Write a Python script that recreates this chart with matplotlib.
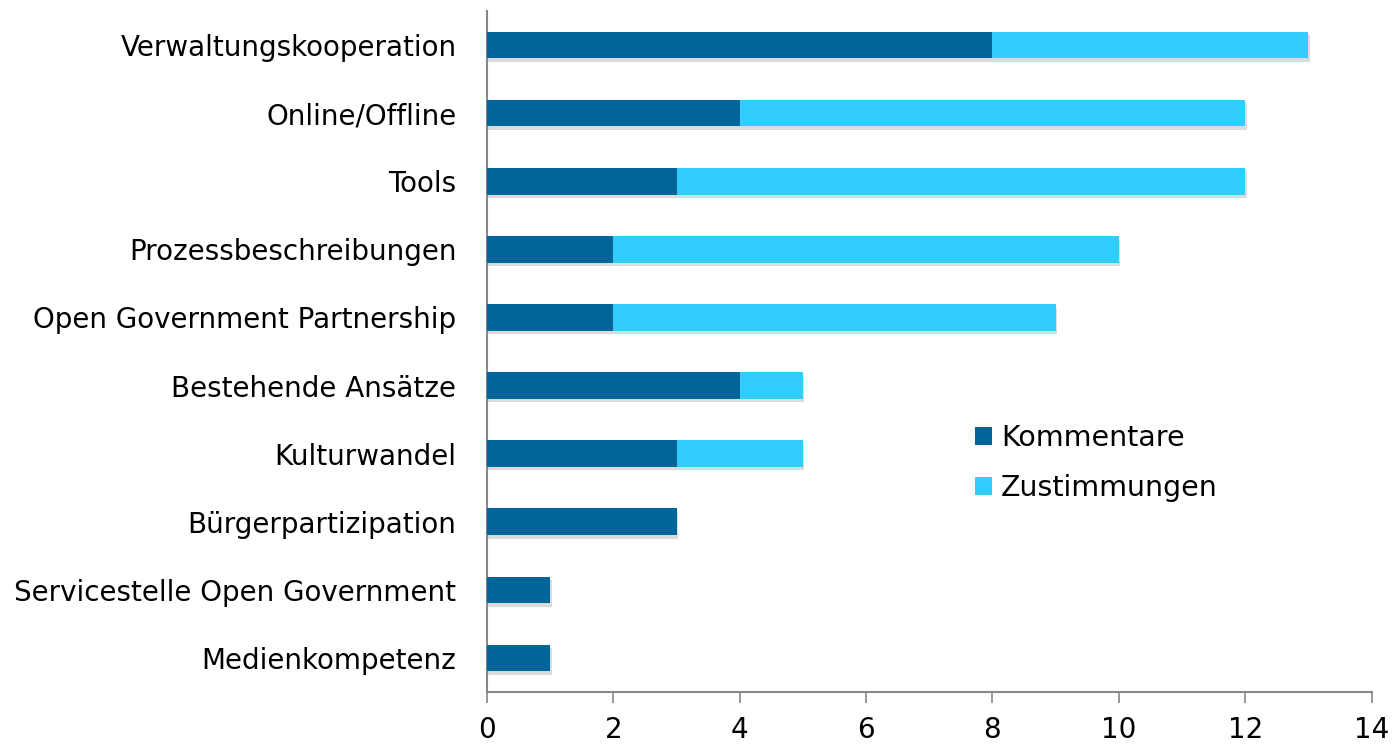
import matplotlib
matplotlib.use("Agg")
import matplotlib.pyplot as plt
import matplotlib.patheffects as pe
import numpy as np

plt.rcParams['font.family'] = ['DejaVu Sans']

categories = ["Verwaltungskooperation", "Online/Offline", "Tools", "Prozessbeschreibungen",
              "Open Government Partnership", "Bestehende Ansätze", "Kulturwandel",
              "Bürgerpartizipation", "Servicestelle Open Government", "Medienkompetenz"]
kommentare = [8, 4, 3, 2, 2, 4, 3, 3, 1, 1]
zustimmungen = [5, 8, 9, 8, 7, 1, 2, 0, 0, 0]
xticks = [0, 2, 4, 6, 8, 10, 12, 14]

dark = "#006699"
light = "#33CCFF"

fig = plt.figure(figsize=(13.92, 7.47), dpi=100)
ax = fig.add_axes([487/1392, 1-692/747, (1371.5-487)/1392, (692-11)/747])

y = np.arange(len(categories))
shadow = [pe.SimplePatchShadow(offset=(1.0, -2.5), shadow_rgbFace="#888888", alpha=0.3), pe.Normal()]
b1 = ax.barh(y, kommentare, height=0.39, color=dark, label="Kommentare", zorder=3)
b2 = ax.barh(y, zustimmungen, left=kommentare, height=0.39, color=light, label="Zustimmungen", zorder=3)
for b in list(b1) + list(b2):
    if b.get_width() > 0:
        b.set_path_effects(shadow)

ax.set_ylim(len(categories) - 0.5, -0.5)
ax.set_xlim(0, 14)
ax.set_yticks(y)
ax.set_yticklabels(categories, fontsize=20)
ax.set_xticks(xticks)
ax.set_xticklabels([str(t) for t in xticks], fontsize=20)
for s in ["top", "right"]:
    ax.spines[s].set_visible(False)
for s in ["left", "bottom"]:
    ax.spines[s].set_color("#888888")
    ax.spines[s].set_linewidth(1.5)
ax.tick_params(axis='y', length=0, pad=22)
ax.tick_params(axis='x', length=8, color="#888888", width=1.2, direction='out', pad=9)

leg = ax.legend(loc='upper left', bbox_to_anchor=(0.552, 0.394), frameon=False, fontsize=20.5,
                handlelength=0.6, handleheight=0.6, handletextpad=0.3, labelspacing=0.78,
                borderaxespad=0, borderpad=0)
for h in leg.legend_handles:
    h.set_path_effects([])

fig.savefig("out.png", dpi=100)
